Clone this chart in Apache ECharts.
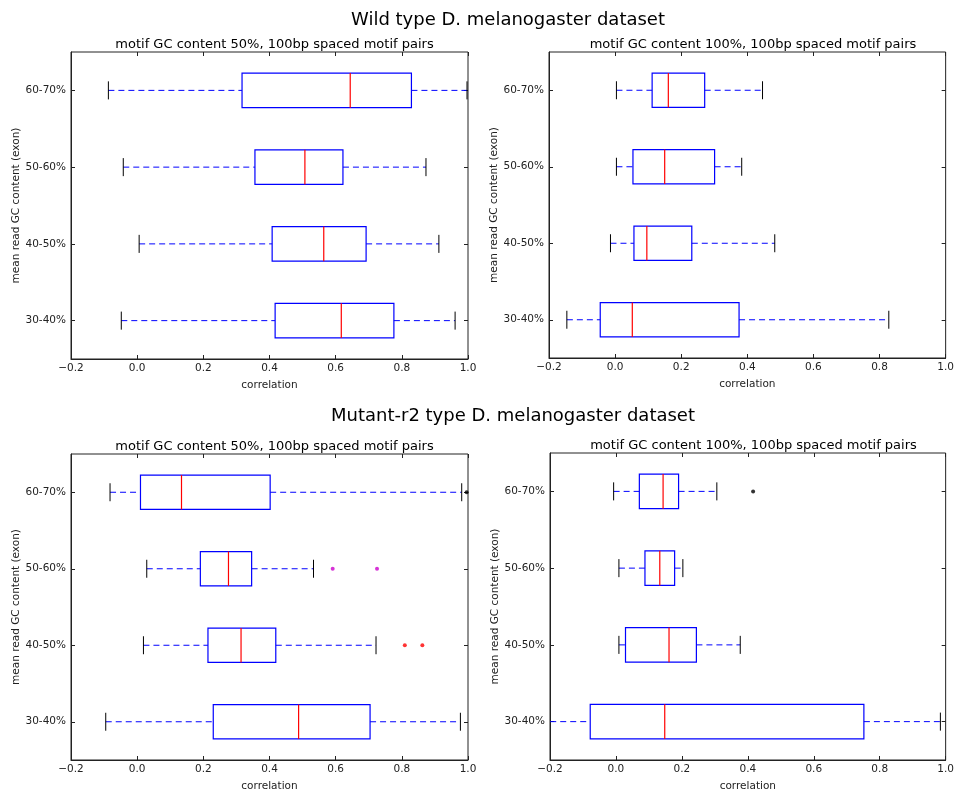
<!DOCTYPE html>
<html>
<head>
<meta charset="utf-8">
<script src="https://cdn.jsdelivr.net/npm/echarts@6/dist/echarts.min.js"></script>
<style>
html,body{margin:0;padding:0;background:#fff;}
#chart{width:957px;height:794px;}
</style>
</head>
<body>
<div id="chart"></div>
<script>
// ---- data ----
const categories = ['30-40%', '40-50%', '50-60%', '60-70%'];
const xTicks = [-0.2, 0.0, 0.2, 0.4, 0.6, 0.8, 1.0];

// rows in category order: [lowWhisker, Q1, median, Q3, highWhisker]
const wild50 = [
  [-0.048, 0.417, 0.617, 0.776, 0.961],
  [0.006, 0.408, 0.564, 0.692, 0.912],
  [-0.042, 0.356, 0.507, 0.622, 0.873],
  [-0.087, 0.317, 0.644, 0.829, 0.997]
];
const wild100 = [
  [-0.146, -0.045, 0.052, 0.375, 0.828],
  [-0.014, 0.057, 0.096, 0.232, 0.483],
  [0.004, 0.054, 0.150, 0.301, 0.383],
  [0.004, 0.112, 0.161, 0.271, 0.446]
];
const mut50 = [
  [-0.095, 0.230, 0.488, 0.704, 0.977],
  [0.019, 0.214, 0.314, 0.419, 0.722],
  [0.029, 0.191, 0.276, 0.346, 0.533],
  [-0.082, 0.010, 0.134, 0.402, 0.981]
];
const mut100 = [
  [-0.26, -0.078, 0.148, 0.752, 0.984],
  [0.009, 0.029, 0.161, 0.244, 0.377],
  [0.009, 0.088, 0.133, 0.178, 0.203],
  [-0.007, 0.071, 0.143, 0.190, 0.306]
];
// outliers: [value, categoryIndex]
const mut50OutliersBlack = [[0.996, 3]];
const mut50OutliersMagenta = [[0.591, 2], [0.725, 2]];
const mut50OutliersRed = [[0.809, 1], [0.862, 1]];
const mut100OutliersBlack = [[0.416, 3]];

const panelTitles = [
  'motif GC content 50%, 100bp spaced motif pairs',
  'motif GC content 100%, 100bp spaced motif pairs',
  'motif GC content 50%, 100bp spaced motif pairs',
  'motif GC content 100%, 100bp spaced motif pairs'
];
const suptitles = ['Wild type D. melanogaster dataset', 'Mutant-r2 type D. melanogaster dataset'];
const xName = 'correlation';
const yName = 'mean read GC content (exon)';

// ---- layout ----
const grids = [
  {left: 71, top: 52, width: 397, height: 307},
  {left: 549, top: 52, width: 398, height: 306},
  {left: 71, top: 454, width: 397, height: 306},
  {left: 550, top: 453, width: 397, height: 307}
];
const FONT = 'DejaVu Sans';
const AX = '#222';
const FS = 10.5;

const chart = echarts.init(document.getElementById('chart'), null, {renderer: 'canvas'});

function minusFmt(v) {
  return (Math.abs(v) < 1e-9 ? 0 : v).toFixed(1).replace('-', '\u2212');
}

const xAxes = [], yAxes = [], series = [], titles = [];
grids.forEach((g, i) => {
  xAxes.push({
    gridIndex: i, type: 'value', min: -0.2, max: 1.0, interval: 0.2,
    name: xName, nameLocation: 'middle', nameGap: 21,
    nameTextStyle: {fontFamily: FONT, fontSize: FS, color: AX},
    axisLine: {show: true, onZero: false, lineStyle: {color: AX, width: 1}},
    axisTick: {show: true, inside: true, length: 4, lineStyle: {color: AX}},
    axisLabel: {fontFamily: FONT, fontSize: FS, color: AX, margin: 4, formatter: minusFmt},
    splitLine: {show: false}
  });
  xAxes.push({
    gridIndex: i, type: 'value', position: 'top', min: -0.2, max: 1.0, interval: 0.2,
    axisLine: {show: false, onZero: false},
    axisTick: {show: true, inside: true, length: 4, lineStyle: {color: AX}},
    axisLabel: {show: false}, splitLine: {show: false}
  });
  yAxes.push({
    gridIndex: i, type: 'category', data: categories, position: 'left',
    name: yName, nameLocation: 'middle', nameGap: 45, nameRotate: 90,
    nameTextStyle: {fontFamily: FONT, fontSize: FS, color: AX},
    axisLine: {show: true, onZero: false, lineStyle: {color: AX, width: 1}},
    axisTick: {show: true, inside: true, length: 4, alignWithLabel: true, lineStyle: {color: AX}},
    axisLabel: {fontFamily: FONT, fontSize: FS, color: AX, margin: 5},
    splitLine: {show: false}
  });
  yAxes.push({
    gridIndex: i, type: 'category', data: categories, position: 'right',
    axisLine: {show: false, onZero: false},
    axisTick: {show: true, inside: true, length: 4, alignWithLabel: true, lineStyle: {color: AX}},
    axisLabel: {show: false}, splitLine: {show: false}
  });
  titles.push({
    text: panelTitles[i], left: g.left + g.width / 2, top: g.top - 19, textAlign: 'center',
    textStyle: {fontFamily: FONT, fontSize: 13, fontWeight: 'normal', color: '#000'}
  });
});
titles.push({
  text: suptitles[0], left: 503, top: 6, textAlign: 'center',
  textStyle: {fontFamily: FONT, fontSize: 18, fontWeight: 'normal', color: '#000'}
});
titles.push({
  text: suptitles[1], left: 508, top: 402, textAlign: 'center',
  textStyle: {fontFamily: FONT, fontSize: 18, fontWeight: 'normal', color: '#000'}
});

function renderBox(params, api) {
  const cat = api.value(0);
  const lo = api.value(1), q1 = api.value(2), md = api.value(3), q3 = api.value(4), hi = api.value(5);
  const band = api.size([0, 1])[1];
  const bh = band * 0.45, ch = band * 0.235;
  const y = api.coord([q1, cat])[1];
  const X = v => api.coord([v, cat])[0];
  const blue = '#0000ff';
  const dash = {stroke: blue, lineWidth: 1, lineDash: [6, 4]};
  return {
    type: 'group',
    children: [
      {type: 'line', shape: {x1: X(lo), y1: y, x2: X(q1), y2: y}, style: dash},
      {type: 'line', shape: {x1: X(q3), y1: y, x2: X(hi), y2: y}, style: dash},
      {type: 'line', shape: {x1: X(lo), y1: y - ch / 2, x2: X(lo), y2: y + ch / 2}, style: {stroke: '#000', lineWidth: 1}},
      {type: 'line', shape: {x1: X(hi), y1: y - ch / 2, x2: X(hi), y2: y + ch / 2}, style: {stroke: '#000', lineWidth: 1}},
      {type: 'rect', shape: {x: X(q1), y: y - bh / 2, width: X(q3) - X(q1), height: bh}, style: {fill: 'none', stroke: blue, lineWidth: 1.2}},
      {type: 'line', shape: {x1: X(md), y1: y - bh / 2, x2: X(md), y2: y + bh / 2}, style: {stroke: '#ff0000', lineWidth: 1.2}}
    ]
  };
}

const panels = [wild50, wild100, mut50, mut100];
panels.forEach((rows, i) => {
  series.push({
    type: 'custom', xAxisIndex: 2 * i, yAxisIndex: 2 * i, clip: true,
    renderItem: renderBox,
    encode: {x: [1, 2, 3, 4, 5], y: 0},
    data: rows.map((r, c) => [c].concat(r)),
    silent: true
  });
});

function outlierSeries(panel, pts, color) {
  return {
    type: 'scatter', xAxisIndex: 2 * panel, yAxisIndex: 2 * panel,
    symbol: 'circle', symbolSize: 4, itemStyle: {color: color}, silent: true,
    data: pts.map(p => [p[0], p[1]])
  };
}
series.push(outlierSeries(2, mut50OutliersBlack, '#000'));
series.push(outlierSeries(2, mut50OutliersMagenta, '#cc00cc'));
series.push(outlierSeries(2, mut50OutliersRed, '#ff0000'));
series.push(outlierSeries(3, mut100OutliersBlack, '#000'));

chart.setOption({
  animation: false,
  backgroundColor: '#fff',
  title: titles,
  grid: grids.map(g => Object.assign({show: true, borderColor: AX, borderWidth: 1, backgroundColor: 'transparent'}, g)),
  xAxis: xAxes,
  yAxis: yAxes,
  series: series
});
</script>
</body>
</html>
